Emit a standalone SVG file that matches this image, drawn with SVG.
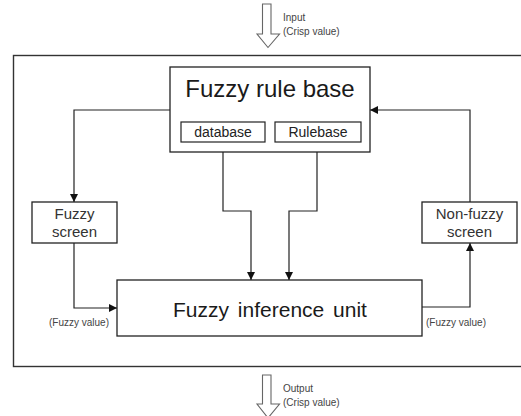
<svg xmlns="http://www.w3.org/2000/svg" width="521" height="416" viewBox="0 0 521 416">
  <style>
    .box { fill: #ffffff; stroke: #222; stroke-width: 1.3; }
    .sub { fill: #ffffff; stroke: #222; stroke-width: 1.2; }
    .frame { fill: none; stroke: #333; stroke-width: 1.4; }
    .wire { fill: none; stroke: #222; stroke-width: 1.2; }
    .hollow { fill: #ffffff; stroke: #666; stroke-width: 1.1; }
    text { font-family: "Liberation Sans", Arial, sans-serif; fill: #1a1a1a; }
    .title { font-size: 24px; text-anchor: middle; }
    .label { font-size: 15px; text-anchor: middle; fill: #333; }
    .small { font-size: 14px; text-anchor: middle; fill: #222; }
    .note { font-size: 10px; fill: #444; }
  </style>
  <defs>
    <marker id="arrow" viewBox="0 0 10 10" refX="10" refY="5" markerWidth="8" markerHeight="8" markerUnits="userSpaceOnUse" orient="auto">
      <path d="M0,0 L10,5 L0,10 Z" fill="#111"/>
    </marker>
  </defs>

  <!-- outer system frame -->
  <rect class="frame" x="13.5" y="55.5" width="515" height="311"/>

  <!-- input block arrow -->
  <g id="input">
    <path class="hollow" d="M262.5,4 L271,4 L271,34 L279.5,34 L268,47.5 L257,34 L262.5,34 Z"/>
    <text class="note" x="283" y="21">Input</text>
    <text class="note" x="283" y="35">(Crisp value)</text>
  </g>

  <!-- output block arrow -->
  <g id="output">
    <path class="hollow" d="M262.5,375 L271,375 L271,404 L279.5,404 L268,418 L257,404 L262.5,404 Z"/>
    <text class="note" x="283" y="392">Output</text>
    <text class="note" x="283" y="406">(Crisp value)</text>
  </g>

  <!-- connectors -->
  <g id="connectors">
    <polyline class="wire" points="170,110 74,110 74,202" marker-end="url(#arrow)"/>
    <polyline class="wire" points="74,243 74,308 117,308" marker-end="url(#arrow)"/>
    <polyline class="wire" points="223,142 223,211 251,211 251,280" marker-end="url(#arrow)"/>
    <polyline class="wire" points="317,142 317,211 289,211 289,280" marker-end="url(#arrow)"/>
    <polyline class="wire" points="422,307 470,307 470,243" marker-end="url(#arrow)"/>
    <polyline class="wire" points="470,202 470,110 370,110" marker-end="url(#arrow)"/>
  </g>

  <!-- fuzzy rule base -->
  <g id="rule-base">
    <rect class="box" x="170" y="67" width="200" height="85"/>
    <text class="title" x="270" y="97">Fuzzy rule base</text>
  </g>
  <g id="database">
    <rect class="sub" x="181" y="122" width="84" height="20"/>
    <text class="small" x="223" y="137">database</text>
  </g>
  <g id="rulebase">
    <rect class="sub" x="275" y="122" width="86" height="20"/>
    <text class="small" x="318" y="137">Rulebase</text>
  </g>

  <!-- fuzzy screen -->
  <g id="fuzzy-screen">
    <rect class="box" x="32" y="202" width="85" height="41"/>
    <text class="label" x="74.5" y="219">Fuzzy</text>
    <text class="label" x="74.5" y="237">screen</text>
  </g>

  <!-- non-fuzzy screen -->
  <g id="nonfuzzy-screen">
    <rect class="box" x="422" y="202" width="95" height="41"/>
    <text class="label" x="469.5" y="219">Non-fuzzy</text>
    <text class="label" x="469.5" y="237">screen</text>
  </g>

  <!-- fuzzy inference unit -->
  <g id="inference-unit">
    <rect class="box" x="117" y="280" width="305" height="56"/>
    <text class="title" x="270" y="317" style="font-size:21px" word-spacing="3">Fuzzy inference unit</text>
  </g>

  <!-- value annotations -->
  <text class="note" x="49" y="326">(Fuzzy value)</text>
  <text class="note" x="426" y="326">(Fuzzy value)</text>
</svg>
